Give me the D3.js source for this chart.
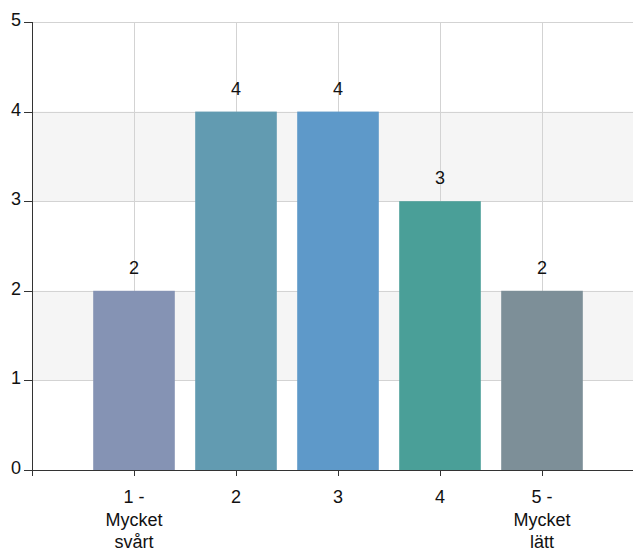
<!DOCTYPE html>
<html><head><meta charset="utf-8">
<script src="https://cdn.jsdelivr.net/npm/d3@7"></script>
<style>body{margin:0;background:#fff}svg{display:block;font-family:"Liberation Sans",Arial,sans-serif}</style>
</head><body><svg id="c" width="633" height="554"></svg>
<script>
const categories = [["1 -","Mycket","svårt"],["2"],["3"],["4"],["5 -","Mycket","lätt"]];
const values = [2,4,4,3,2];
const colors = ["#8593b4","#629bb1","#5e99c9","#4a9f98","#7d8f98"];
const yTicks = [0,1,2,3,4,5];

(function(){
const svg = d3.select("#c");
const pL = 32, pR = 633, pT = 22, pB = 470;
const x = d3.scaleBand().domain(d3.range(categories.length)).range([83, 593]).paddingInner(0.2).paddingOuter(0.1);
const y = d3.scaleLinear().domain([0,5]).range([pB, pT]);

// alternating bands
[[1,2],[3,4]].forEach(([a,b]) => {
  svg.append("rect").attr("x", pL).attr("y", y(b)).attr("width", pR-pL).attr("height", y(a)-y(b)).attr("fill","#f5f5f5");
});
// horizontal grid
svg.selectAll(".hg").data(yTicks.slice(1)).enter().append("line")
  .attr("x1", pL).attr("x2", pR).attr("y1", d=>Math.round(y(d))+0.5).attr("y2", d=>Math.round(y(d))+0.5)
  .attr("stroke","#d3d3d3").attr("stroke-width",1);
// vertical grid
svg.selectAll(".vg").data(d3.range(categories.length)).enter().append("line")
  .attr("x1", d=>Math.round(x(d)+x.bandwidth()/2)+0.5).attr("x2", d=>Math.round(x(d)+x.bandwidth()/2)+0.5)
  .attr("y1", pT).attr("y2", pB).attr("stroke","#d3d3d3");

// bars
svg.selectAll(".bar").data(values).enter().append("rect")
  .attr("x",(d,i)=>x(i)).attr("width",x.bandwidth())
  .attr("y",d=>y(d)).attr("height",d=>pB-y(d))
  .attr("fill",(d,i)=>colors[i]);

// value labels
svg.selectAll(".vl").data(values).enter().append("text")
  .attr("x",(d,i)=>x(i)+x.bandwidth()/2).attr("y",d=>y(d)-17)
  .attr("text-anchor","middle").attr("font-size",18).attr("fill","#111").text(d=>d);

// y axis
svg.append("line").attr("x1",pL+0.5).attr("x2",pL+0.5).attr("y1",pT).attr("y2",pB+6).attr("stroke","#333");
svg.selectAll(".yt").data(yTicks).enter().append("line")
  .attr("x1",pL-8).attr("x2",pL).attr("y1",d=>Math.round(y(d))+0.5).attr("y2",d=>Math.round(y(d))+0.5).attr("stroke","#333");
svg.selectAll(".yl").data(yTicks).enter().append("text")
  .attr("x",pL-11).attr("y",d=>y(d)+4).attr("text-anchor","end").attr("font-size",18).attr("fill","#111").text(d=>d);

// x axis
svg.append("line").attr("x1",pL-8).attr("x2",pR).attr("y1",pB+0.5).attr("y2",pB+0.5).attr("stroke","#333");
svg.selectAll(".xt").data(d3.range(categories.length)).enter().append("line")
  .attr("x1",d=>Math.round(x(d)+x.bandwidth()/2)+0.5).attr("x2",d=>Math.round(x(d)+x.bandwidth()/2)+0.5)
  .attr("y1",pB).attr("y2",pB+6).attr("stroke","#333");
const xl = svg.selectAll(".xl").data(categories).enter().append("text")
  .attr("text-anchor","middle").attr("font-size",18).attr("fill","#111");
xl.each(function(lines,i){
  const t = d3.select(this);
  lines.forEach((s,j)=>t.append("tspan").attr("x",x(i)+x.bandwidth()/2).attr("y",503+j*22.5).text(s));
});
})();
</script></body></html>
